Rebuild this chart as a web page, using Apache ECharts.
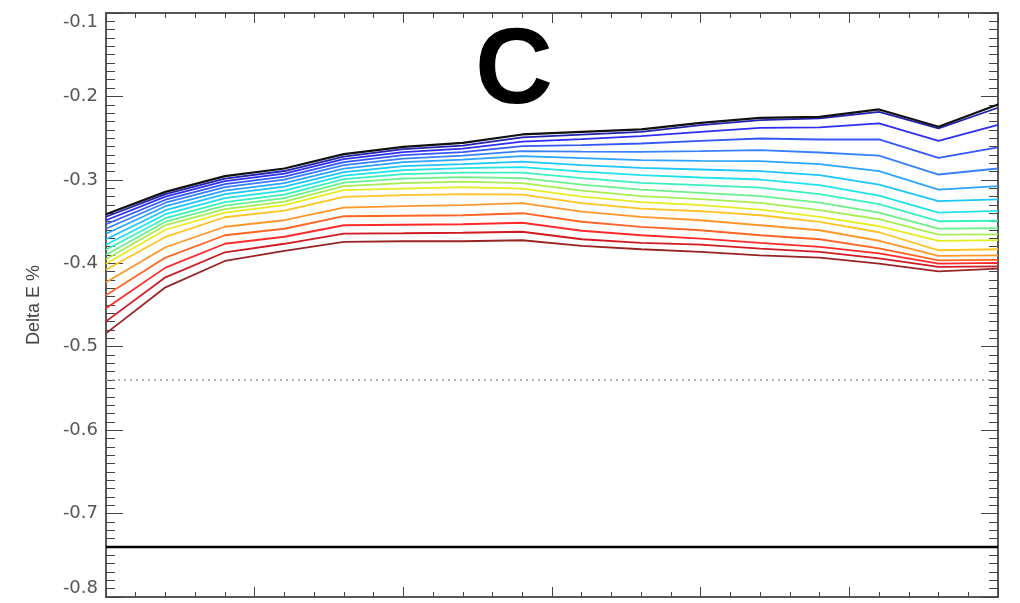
<!DOCTYPE html>
<html>
<head>
<meta charset="utf-8">
<script src="https://cdn.jsdelivr.net/npm/echarts@6/dist/echarts.min.js"></script>
<style>
  html, body { margin: 0; padding: 0; background: #fff; }
  #chart { width: 1020px; height: 603px; }
</style>
</head>
<body>
<div id="chart"></div>
<script>
// x positions of the samples (no labels on the x axis)
const xs = [0, 1, 2, 3, 4, 5, 6, 7, 8, 9, 10, 11, 12, 13, 14, 15]

// top black curve
const blackLine = [-0.3412, -0.3144, -0.2956, -0.2864, -0.2692, -0.2604, -0.2556, -0.2456, -0.2424, -0.2396, -0.2316, -0.2256, -0.2244, -0.2156, -0.2364, -0.2096]

// rainbow family, top (blue) to bottom (dark red)
const line01 = [-0.3442, -0.3172, -0.2986, -0.2894, -0.2722, -0.2632, -0.2590, -0.2492, -0.2458, -0.2424, -0.2344, -0.2284, -0.2264, -0.2184, -0.2384, -0.2136]
const line02 = [-0.3484, -0.3202, -0.3016, -0.2926, -0.2752, -0.2668, -0.2626, -0.2542, -0.2512, -0.2476, -0.2424, -0.2376, -0.2372, -0.2324, -0.2532, -0.2340]
const line03 = [-0.3532, -0.3238, -0.3052, -0.2962, -0.2788, -0.2704, -0.2668, -0.2596, -0.2584, -0.2564, -0.2532, -0.2504, -0.2516, -0.2516, -0.2736, -0.2612]
const line04 = [-0.3586, -0.3274, -0.3088, -0.2998, -0.2824, -0.2746, -0.2710, -0.2656, -0.2662, -0.2664, -0.2656, -0.2644, -0.2672, -0.2710, -0.2936, -0.2864]
const line05 = [-0.3646, -0.3316, -0.3130, -0.3040, -0.2866, -0.2788, -0.2758, -0.2716, -0.2740, -0.2764, -0.2772, -0.2776, -0.2812, -0.2896, -0.3116, -0.3076]
const line06 = [-0.3712, -0.3364, -0.3172, -0.3082, -0.2908, -0.2836, -0.2812, -0.2782, -0.2824, -0.2856, -0.2876, -0.2896, -0.2944, -0.3056, -0.3256, -0.3234]
const line07 = [-0.3778, -0.3412, -0.3220, -0.3130, -0.2950, -0.2884, -0.2860, -0.2848, -0.2902, -0.2944, -0.2972, -0.2996, -0.3064, -0.3190, -0.3392, -0.3372]
const line08 = [-0.3838, -0.3460, -0.3268, -0.3178, -0.2992, -0.2932, -0.2914, -0.2914, -0.2980, -0.3036, -0.3064, -0.3092, -0.3172, -0.3292, -0.3496, -0.3490]
const line09 = [-0.3898, -0.3502, -0.3310, -0.3220, -0.3034, -0.2986, -0.2968, -0.2980, -0.3058, -0.3116, -0.3156, -0.3196, -0.3272, -0.3394, -0.3584, -0.3580]
const line10 = [-0.3952, -0.3544, -0.3352, -0.3262, -0.3076, -0.3040, -0.3022, -0.3040, -0.3130, -0.3196, -0.3232, -0.3276, -0.3364, -0.3472, -0.3656, -0.3654]
const line11 = [-0.4006, -0.3598, -0.3394, -0.3304, -0.3124, -0.3104, -0.3088, -0.3106, -0.3202, -0.3268, -0.3304, -0.3356, -0.3444, -0.3556, -0.3732, -0.3722]
const line12 = [-0.4078, -0.3684, -0.3448, -0.3370, -0.3204, -0.3184, -0.3172, -0.3178, -0.3280, -0.3344, -0.3376, -0.3424, -0.3504, -0.3628, -0.3844, -0.3832]
const line13 = [-0.4228, -0.3808, -0.3562, -0.3484, -0.3332, -0.3316, -0.3304, -0.3280, -0.3382, -0.3444, -0.3484, -0.3544, -0.3604, -0.3730, -0.3912, -0.3904]
const line14 = [-0.4384, -0.3932, -0.3664, -0.3586, -0.3436, -0.3430, -0.3424, -0.3400, -0.3502, -0.3564, -0.3604, -0.3664, -0.3712, -0.3820, -0.3964, -0.3958]
const line15 = [-0.4540, -0.4052, -0.3766, -0.3682, -0.3544, -0.3538, -0.3532, -0.3514, -0.3610, -0.3664, -0.3704, -0.3756, -0.3804, -0.3880, -0.4004, -0.3996]
const line16 = [-0.4696, -0.4168, -0.3868, -0.3766, -0.3644, -0.3640, -0.3634, -0.3622, -0.3712, -0.3756, -0.3776, -0.3824, -0.3864, -0.3940, -0.4044, -0.4036]
const line17 = [-0.4840, -0.4288, -0.3972, -0.3850, -0.3744, -0.3736, -0.3736, -0.3724, -0.3792, -0.3832, -0.3864, -0.3904, -0.3932, -0.4004, -0.4096, -0.4064]

const lineColors = ['#2222b0', '#2e2ef2', '#3458f6', '#3880fa', '#2aa4fc', '#1cc6fa', '#20e2ec', '#38f0c0',
  '#6cf08c', '#a6ee52', '#e6ec22', '#ffc424', '#ff962a', '#ff6424', '#ff2a2a', '#d01a22', '#982424']

// horizontal reference levels
const dottedLevel = -0.54
const solidLevel = -0.74

const yTicks = [-0.8, -0.7, -0.6, -0.5, -0.4, -0.3, -0.2, -0.1]

let chart = echarts.init(document.getElementById('chart'))

function pairs(vals) {
  return xs.map((x, i) => [x, vals[i]])
}

function flat(level) {
  return [[xs[0], level], [xs[xs.length - 1], level]]
}

const family = [line01, line02, line03, line04, line05, line06, line07, line08, line09,
  line10, line11, line12, line13, line14, line15, line16, line17]

let series = family.map((vals, i) => ({
  type: 'line',
  data: pairs(vals),
  symbol: 'none',
  lineStyle: {color: lineColors[i], width: 1.8},
  z: 2
}))

series.push({
  type: 'line',
  data: pairs(blackLine),
  symbol: 'none',
  lineStyle: {color: '#111', width: 2.2},
  z: 3
})
series.push({
  type: 'line',
  data: flat(dottedLevel),
  symbol: 'none',
  lineStyle: {color: '#999', width: 1.5, type: [2, 4]}
})
series.push({
  type: 'line',
  data: flat(solidLevel),
  symbol: 'none',
  lineStyle: {color: '#000', width: 2.5}
})

const xAxisBase = {
  type: 'value',
  min: 0,
  max: 15,
  interval: 2.5,
  axisLine: {show: true, onZero: false, lineStyle: {color: '#222', width: 1.5}},
  axisTick: {show: true, inside: true, length: 10, lineStyle: {color: '#444'}},
  minorTick: {show: true, splitNumber: 5, length: 5, lineStyle: {color: '#444'}},
  axisLabel: {show: false},
  splitLine: {show: false}
}

const yAxisBase = {
  type: 'value',
  min: yTicks[0],
  max: yTicks[yTicks.length - 1],
  interval: 0.1,
  axisLine: {show: true, onZero: false, lineStyle: {color: '#222', width: 1.5}},
  axisTick: {show: true, inside: true, length: 17, lineStyle: {color: '#444'}},
  minorTick: {show: true, splitNumber: 10, length: 9, lineStyle: {color: '#444'}},
  splitLine: {show: false}
}

let option = {
  animation: false,
  backgroundColor: '#fff',
  title: {
    text: 'C',
    left: 509,
    top: 14,
    textAlign: 'center',
    textStyle: {fontFamily: 'Liberation Sans', fontWeight: 'bold', fontSize: 108, color: '#000'}
  },
  grid: {left: 106, right: 22, top: 13, bottom: 6},
  xAxis: [
    Object.assign({position: 'bottom'}, xAxisBase),
    Object.assign({position: 'top'}, xAxisBase)
  ],
  yAxis: [
    Object.assign({}, yAxisBase, {
      position: 'left',
      name: 'Delta E %',
      nameLocation: 'middle',
      nameGap: 63,
      nameRotate: 90,
      nameTextStyle: {fontFamily: 'Liberation Sans', fontSize: 18, color: '#444'},
      axisLabel: {
        show: true,
        margin: 8,
        fontFamily: 'DejaVu Sans',
        fontSize: 18,
        color: '#555',
        verticalAlignMinLabel: 'bottom',
        verticalAlignMaxLabel: 'top',
        formatter: v => v.toFixed(1)
      }
    }),
    Object.assign({}, yAxisBase, {position: 'right', axisLabel: {show: false}})
  ],
  series: series
}

chart.setOption(option)
</script>
</body>
</html>
